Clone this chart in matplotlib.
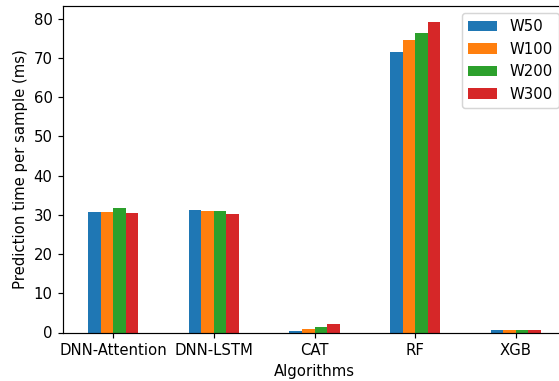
import pandas as pd
import matplotlib.pyplot as plt

# Prediction time per sample (ms) for each algorithm and window size
algorithms = ["DNN-Attention", "DNN-LSTM", "CAT", "RF", "XGB"]
w50 = [30.8, 31.2, 0.3, 71.5, 0.6]
w100 = [30.8, 30.9, 0.8, 74.7, 0.6]
w200 = [31.8, 31.1, 1.4, 76.5, 0.6]
w300 = [30.6, 30.3, 2.1, 79.3, 0.7]

df = pd.DataFrame(
    {"W50": w50, "W100": w100, "W200": w200, "W300": w300}, index=algorithms
)

DPI = 107
fig = plt.figure(figsize=(559 / DPI, 381 / DPI), dpi=DPI)
# axes run slightly past the right edge of the figure
ax = fig.add_axes([63 / 559, 1 - 332.5 / 381, 503 / 559, 326.5 / 381])
df.plot.bar(ax=ax, rot=0)

ax.set_xlabel("Algorithms")
ax.set_ylabel("Prediction time per sample (ms)")
ax.legend(loc="upper right")

plt.savefig("out.png", dpi=DPI)
